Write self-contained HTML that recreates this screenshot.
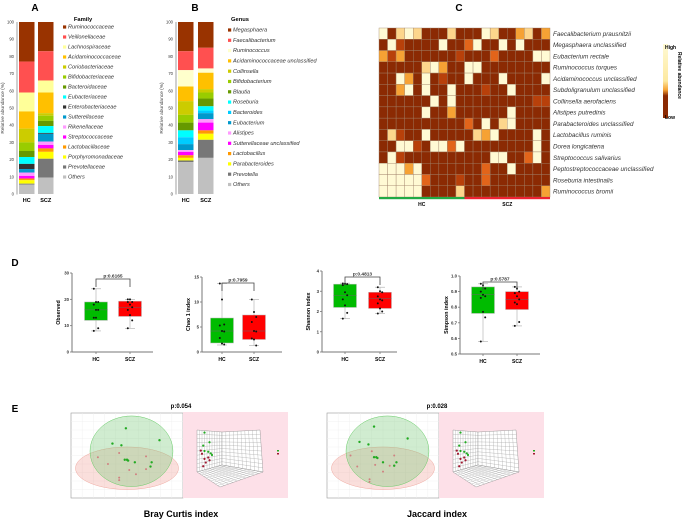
<!DOCTYPE html>
<html><head><meta charset="utf-8">
<style>
html,body{margin:0;padding:0;background:#fff;}
svg{display:block;font-family:"Liberation Sans",Arial,sans-serif;}
</style></head>
<body>
<svg id="fig" width="685" height="520" viewBox="0 0 685 520">
<text x="35" y="11" font-size="10" font-weight="bold" text-anchor="middle">A</text>
<text x="195" y="11" font-size="10" font-weight="bold" text-anchor="middle">B</text>
<text x="459" y="11" font-size="10" font-weight="bold" text-anchor="middle">C</text>
<text x="15" y="266" font-size="10" font-weight="bold" text-anchor="middle">D</text>
<text x="15" y="412" font-size="10" font-weight="bold" text-anchor="middle">E</text>
<g id="gA"></g>
<g id="gB"></g>
<g id="gC"></g>
<g id="gD"></g>
<g id="gE"></g>
</svg>
<script>
// ---------- Data ----------
const groups = ["HC","SCZ"];
const familyNames = ["Ruminococcaceae","Veillonellaceae","Lachnospiraceae","Acidaminococcaceae","Coriobacteriaceae","Bifidobacteriaceae","Bacteroidaceae","Eubacteriaceae","Enterobacteriaceae","Sutterellaceae","Rikenellaceae","Streptococcaceae","Lactobacillaceae","Porphyromonadaceae","Prevotellaceae","Others"];
const familyHC  = [23,18,11,10,8,5,3.5,4,3,2,2,1.5,1,2,0.5,5.5];
const familySCZ = [17,17,7,12,1.5,3,3,4,0.5,4.5,2,2,2,4,11,9.5];
const familyColors = ["#993300","#ff5050","#ffff99","#ffc000","#cccc00","#99cc00","#669900","#00ffff","#333333","#0099cc","#ff99ff","#ff00ff","#ff9900","#ffff00","#777777","#c0c0c0"];
const genusNames = ["Megasphaera","Faecalibacterium","Ruminococcus","Acidaminococcaceae unclassified","Collinsella","Bifidobacterium","Blautia","Roseburia","Bacteroides","Eubacterium","Alistipes","Sutterellaceae unclassified","Lactobacillus","Parabacteroides","Prevotella","Others"];
const genusHC  = [17,11,9.5,8.5,8,4.5,4.5,4,4,3.5,1,2,1.5,1.5,1,18.5];
const genusSCZ = [15,12,2.5,9.5,2,3.5,4.5,2.5,1.5,3.5,2,4.5,2,3.5,10.5,21];
const genusColors = ["#993300","#ff5050","#ffffcc","#ffc000","#cccc00","#99cc00","#669900","#00ffff","#00ccff","#0099cc","#ff99ff","#ff00ff","#ff9900","#ffff00","#777777","#c0c0c0"];
const abundanceTicks = [0,10,20,30,40,50,60,70,80,90,100];

const speciesNames = ["Faecalibacterium prausnitzii","Megasphaera unclassified","Eubacterium rectale","Ruminococcus torques","Acidaminococcus unclassified","Subdoligranulum unclassified","Collinsella aerofaciens","Alistipes putredinis","Parabacteroides unclassified","Lactobacillus ruminis","Dorea longicatena","Streptococcus salivarius","Peptostreptococcaceae unclassified","Roseburia intestinalis","Ruminococcus bromii"];
const heatLevels = [
[5,0,4,5,4,0,0,0,4,0,0,0,5,4,0,0,3,4,0,3],
[0,5,1,0,0,0,0,5,0,0,2,5,0,0,5,0,5,0,0,0],
[3,1,3,0,0,0,0,0,0,1,0,0,0,2,0,0,0,0,5,5],
[0,0,0,0,0,4,5,3,0,0,5,5,0,0,0,0,0,0,0,0],
[0,0,5,3,0,5,0,1,0,0,5,0,0,0,5,0,0,0,0,5],
[0,0,3,5,0,5,0,0,5,0,0,0,1,0,0,5,0,0,0,0],
[0,0,0,0,0,0,5,0,5,0,0,0,0,0,0,0,0,0,1,1],
[0,0,0,0,0,5,0,0,3,0,0,0,0,0,0,5,0,0,0,0],
[0,0,0,0,0,0,0,0,0,0,2,0,5,0,4,5,0,0,0,0],
[0,4,1,0,0,5,0,0,0,0,0,4,3,5,0,0,0,0,5,0],
[0,0,5,5,1,0,5,5,2,5,0,0,0,0,0,0,0,0,5,0],
[0,5,1,0,0,0,0,0,0,0,0,0,0,5,5,0,0,2,5,0],
[5,5,5,3,5,0,0,0,0,0,0,0,2,0,0,5,0,0,0,0],
[5,5,5,5,5,2,0,0,0,1,0,0,2,0,0,0,0,0,0,0],
[5,5,5,5,5,0,0,0,0,4,0,0,0,0,0,0,0,0,0,3]];
const heatGroupSizes = [10,10];

// box stats: [min, q1, median, q3, max]
const obsHC = [24,19,19,18,16,16,13,13,9,8];
const obsSCZ = [20,20,19,19,18,17,16,14,12,9];
const obsBoxHC = [8,12,16,19,24];
const obsBoxSCZ = [9,13.5,17,19.3,20];
const obsTicks = [0,10,20,30];
const chaoHC = [13.7,10.5,5.5,5.3,4.2,4.1,2.8,1.7,1.5];
const chaoSCZ = [10.5,8,7,6,4.2,4.1,2.7,2.5,1.3];
const chaoBoxHC = [1.4,1.8,4.2,6.8,13.7];
const chaoBoxSCZ = [1.3,2.5,4.2,7.4,10.5];
const chaoTicks = [0,5,10,15];
const shanHC = [3.38,3.37,3.35,3.3,2.95,2.8,2.6,2.3,1.93,1.65];
const shanSCZ = [3.2,3.0,2.95,2.75,2.6,2.55,2.4,2.15,2.0,1.9];
const shanBoxHC = [1.65,2.2,2.8,3.35,3.4];
const shanBoxSCZ = [1.9,2.15,2.65,2.95,3.2];
const shanTicks = [0,1,2,3,4];
const simpHC = [0.95,0.94,0.92,0.9,0.88,0.87,0.86,0.77,0.735,0.58];
const simpSCZ = [0.93,0.92,0.9,0.89,0.87,0.85,0.83,0.82,0.705,0.68];
const simpBoxHC = [0.58,0.76,0.88,0.93,0.95];
const simpBoxSCZ = [0.68,0.785,0.85,0.9,0.93];
const simpTicks = [0.5,0.6,0.7,0.8,0.9,1.0];
const pValuesD = ["p:0.6165","p:0.7959","p:0.4813","p:0.5787"];

const bcGreenX = [49,79,37,45,48,50,51,57,72,71];
const bcGreenY = [82,68,64,62,45,45,44,42,42,37];
const bcRedX = [24,43,33,67,52,67,58,43,43];
const bcRedY = [48,53,40,49,33,34,28,24,21];
const jcGreenX = [42,72,29,37,42,44,45,50,62,60];
const jcGreenY = [84,70,66,63,48,48,47,42,42,38];
const jcRedX = [21,40,27,60,43,56,50,38,38];
const jcRedY = [50,55,37,50,39,38,31,22,19];
const pValuesE = ["p:0.054","p:0.028"];
const d3GreenU = [0.3,0.5,0.25,0.3,0.45,0.55,0.6];
const d3GreenV = [0.95,0.7,0.62,0.48,0.45,0.4,0.35];
const d3RedU = [0.15,0.2,0.3,0.45,0.35,0.25,0.5];
const d3RedV = [0.5,0.42,0.28,0.3,0.18,0.1,0.22];

// ---------- Helpers ----------
const NS = "http://www.w3.org/2000/svg";
function mk(tag, parent, attrs){ const e=document.createElementNS(NS,tag); for(const k in attrs) e.setAttribute(k,attrs[k]); parent.appendChild(e); return e; }
function txt(parent, x, y, s, size, extra){ const t=mk("text",parent,Object.assign({x:x,y:y,"font-size":size},extra||{})); t.textContent=s; return t; }
const lin=(d0,d1,r0,r1)=>v=>r0+(v-d0)/(d1-d0)*(r1-r0);

// ---------- Stacked bars ----------
function stacked(g, ax, bx, legX, legY0, legStep, title, titleX, names, colors, sets){
  const y = lin(0,100,194,22);
  mk("line",g,{x1:ax,y1:22,x2:ax,y2:194.5,stroke:"#888","stroke-width":0.8});
  abundanceTicks.forEach(t=>{
    const tl=txt(g,ax-3,y(t)+1.5,String(t),4.2,{"text-anchor":"end",fill:"#333"});
    
    
  });
  const yl=txt(g,0,0,"Relative abundance (%)",4.8,{transform:`translate(${ax-13},108) rotate(-90)`,"text-anchor":"middle",fill:"#444"});
  
  
  sets.forEach((vals,gi)=>{
    let cum=100;
    vals.forEach((v,i)=>{
      const r=mk("rect",g,{x:bx[gi],y:y(cum),width:15.5,height:y(cum-v)-y(cum),fill:colors[i]});
      
      
      cum-=v;
    });
    const gl=txt(g,bx[gi]+7.75,202,groups[gi],5.5,{"text-anchor":"middle","font-weight":"bold"});
    
    
  });
  const tt=txt(g,titleX,21,title,5.8,{"text-anchor":"middle","font-weight":"bold"});
  
  
  names.forEach((n,i)=>{
    const yy=legY0+i*legStep;
    const sq=mk("rect",g,{x:legX,y:yy-2.6,width:3.2,height:3.2,fill:colors[i]});
    
    
    const t=txt(g,legX+5,yy+0.6,n,5.6,{"font-style":"italic",fill:"#333"});
    
    
  });
}
stacked(document.getElementById("gA"),17,[19,38],63,28,10,"Family",83,familyNames,familyColors,[familyHC,familySCZ]);
stacked(document.getElementById("gB"),176,[178,198],228,31,10.3,"Genus",240,genusNames,genusColors,[genusHC,genusSCZ]);

// ---------- Heatmap ----------
(function(){
  const g=document.getElementById("gC");
  const palette=["#8b2a03","#b8400a","#e2641a","#f6a234","#fdd68c","#fffad4"];
  const x0=379,x1=550,y0=28,y1=197;
  const nc=heatLevels[0].length, nr=heatLevels.length;
  const cw=(x1-x0)/nc, ch=(y1-y0)/nr;
  heatLevels.forEach((row,ri)=>{
    row.forEach((lv,ci)=>{
      const r=mk("rect",g,{x:x0+ci*cw,y:y0+ri*ch,width:cw,height:ch,fill:palette[lv],stroke:"#a0826a","stroke-width":0.4});
      
      
    });
    const t=txt(g,553,y0+ri*ch+ch/2+2.2,speciesNames[ri],6.3,{"font-style":"italic",fill:"#333"});
    
    
  });
  const gcols=["#22aa44","#ee2233"];
  let c=0;
  heatGroupSizes.forEach((n,gi)=>{
    const b=mk("rect",g,{x:x0+c*cw,y:y1,width:n*cw,height:2.2,fill:gcols[gi]});
    
    
    const t=txt(g,x0+(c+n/2)*cw,206,groups[gi],5,{"text-anchor":"middle","font-weight":"bold"});
    
    
    c+=n;
  });
  const defs=mk("defs",g,{});
  const lg=mk("linearGradient",defs,{id:"cbar",x1:0,y1:0,x2:0,y2:1});
  [["0","#fffad4"],["0.5","#fde9a0"],["0.62","#f6a234"],["0.7","#8b2a03"],["1","#8b2a03"]].forEach(s=>mk("stop",lg,{offset:s[0],"stop-color":s[1]}));
  const cb=mk("rect",g,{x:663,y:44,width:5,height:74,fill:"url(#cbar)"});
  
  
  const h=txt(g,665,49,"High",5,{"font-weight":"bold"});  
  const l=txt(g,665,119,"Low",5,{"font-weight":"bold"});  
  const rl=txt(g,0,0,"Relative abundance",5,{transform:"translate(678,52) rotate(90)","font-weight":"bold"});
  
  
})();

// ---------- Box plots ----------
function boxplot(ax, xEnd, yTop, yBot, ticks, label, dHC, dSCZ, sHC, sSCZ, pv, cHC, cSCZ, tickFmt){
  const g=mk("g",document.getElementById("gD"),{});
  
  
  const y=lin(ticks[0],ticks[ticks.length-1],yBot,yTop);
  mk("line",g,{x1:ax,y1:yTop,x2:ax,y2:yBot,stroke:"#777","stroke-width":1});
  mk("line",g,{x1:ax,y1:yBot,x2:xEnd,y2:yBot,stroke:"#777","stroke-width":1});
  ticks.forEach(t=>{
    mk("line",g,{x1:ax-2,y1:y(t),x2:ax,y2:y(t),stroke:"#777","stroke-width":0.8});
    const tl=txt(g,ax-3,y(t)+1.5,tickFmt(t),4.3,{"text-anchor":"end","font-weight":"bold",fill:"#333"});
    
    
  });
  const yl=txt(g,0,0,label,5.3,{transform:`translate(${ax-12},${(yTop+yBot)/2}) rotate(-90)`,"text-anchor":"middle","font-weight":"bold"});
  
  
  [[dHC,sHC,cHC,"#00bb00"],[dSCZ,sSCZ,cSCZ,"#ff0000"]].forEach((d,gi)=>{
    const [vals,s,cx,col]=d;
    const [mn,q1,md,q3,mx]=s;
    mk("line",g,{x1:cx,y1:y(mx),x2:cx,y2:y(mn),stroke:"#aaa","stroke-width":0.6});
    mk("line",g,{x1:cx-5,y1:y(mx),x2:cx+5,y2:y(mx),stroke:"#aaa","stroke-width":0.6});
    mk("line",g,{x1:cx-5,y1:y(mn),x2:cx+5,y2:y(mn),stroke:"#aaa","stroke-width":0.6});
    const b=mk("rect",g,{x:cx-11.5,y:y(q3),width:23,height:y(q1)-y(q3),fill:col,stroke:"#bbb","stroke-width":0.5});
    
    
    mk("line",g,{x1:cx-11.5,y1:y(md),x2:cx+11.5,y2:y(md),stroke:"#666","stroke-width":0.5});
    vals.forEach((v,i)=>{
      const p=mk("circle",g,{cx:cx+((i%3)-1)*2.2,cy:y(v),r:1,fill:"#111"});
      
      
    });
    mk("line",g,{x1:cx,y1:yBot,x2:cx,y2:yBot+2,stroke:"#777","stroke-width":0.8});
    const gl=txt(g,cx,yBot+9,groups[gi],5,{"text-anchor":"middle","font-weight":"bold"});
    
    
  });
  const by=yTop+6;
  mk("polyline",g,{points:`${cHC},${by+8} ${cHC},${by} ${cSCZ},${by} ${cSCZ},${by+8}`,fill:"none",stroke:"#444","stroke-width":0.8});
  const pt=txt(g,(cHC+cSCZ)/2,by-1.5,pv,4.8,{"text-anchor":"middle","font-weight":"bold",fill:"#333"});
  
  
}
const f0=t=>String(t), f1=t=>t.toFixed(1);
boxplot(72,153,273,352,obsTicks,"Observed",obsHC,obsSCZ,obsBoxHC,obsBoxSCZ,pValuesD[0],96,130,f0);
boxplot(202,282,277,352,chaoTicks,"Chao 1 index",chaoHC,chaoSCZ,chaoBoxHC,chaoBoxSCZ,pValuesD[1],222,254,f0);
boxplot(322,397,271,352,shanTicks,"Shannon index",shanHC,shanSCZ,shanBoxHC,shanBoxSCZ,pValuesD[2],345,380,f0);
boxplot(460,540,276,354,simpTicks,"Simpson index",simpHC,simpSCZ,simpBoxHC,simpBoxSCZ,pValuesD[3],483,517,f1);

// ---------- PCoA panels ----------
function pcoa(x0, pv, title, gx, gy, rx, ry){
  const g=mk("g",document.getElementById("gE"),{});
  
  
  const w=112, top=413, bot=498;
  const X=lin(0,100,x0,x0+w), Y=lin(0,100,bot,top);
  const fr=mk("rect",g,{x:x0,y:top,width:w,height:bot-top,fill:"#fff",stroke:"#999","stroke-width":0.6});
  
  
  for(let i=1;i<10;i++){
    mk("line",g,{x1:X(i*10),y1:top,x2:X(i*10),y2:bot,stroke:"#eee","stroke-width":0.4});
    mk("line",g,{x1:x0,y1:Y(i*10),x2:x0+w,y2:Y(i*10),stroke:"#eee","stroke-width":0.4});
  }
  const ep=mk("ellipse",g,{cx:X(50),cy:Y(35),rx:X(46)-X(0),ry:Y(0)-Y(25),fill:"rgba(240,150,140,0.3)",stroke:"#f0a8a0","stroke-width":0.5});
   
  const eg=mk("ellipse",g,{cx:X(54),cy:Y(55),rx:X(37)-X(0),ry:Y(0)-Y(41.5),fill:"rgba(120,200,120,0.35)",stroke:"#6c6","stroke-width":0.5});
   
  rx.forEach((v,i)=>{const c=mk("circle",g,{cx:X(v),cy:Y(ry[i]),r:1,fill:"#d08080"});  });
  gx.forEach((v,i)=>{const c=mk("circle",g,{cx:X(v),cy:Y(gy[i]),r:1.2,fill:"#22aa22"});  });
  const px0=x0+w, pw=105;
  const pk=mk("rect",g,{x:px0,y:412,width:pw,height:86,fill:"#fde0e8"});
   
  const o=px0-183;
  const L=[[197,430],[222,432],[222,465],[197,472]], R=[[222,432],[260,430],[263,472],[222,465]], F=[[197,472],[222,465],[263,472],[220,487]];
  const bil=(q,u,v)=>{const a=q[0],b=q[1],c=q[2],d=q[3]; const tx=a[0]+(b[0]-a[0])*u, ty=a[1]+(b[1]-a[1])*u, bx=d[0]+(c[0]-d[0])*u, by_=d[1]+(c[1]-d[1])*u; return [o+tx+(bx-tx)*v, ty+(by_-ty)*v];};
  [L,R,F].forEach(q=>{
    const poly=[bil(q,0,0),bil(q,1,0),bil(q,1,1),bil(q,0,1)].map(p=>p.join(",")).join(" ");
    mk("polygon",g,{points:poly,fill:"#fff",stroke:"#888","stroke-width":0.4});
    for(let i=1;i<10;i++){
      const a=bil(q,i/10,0), b=bil(q,i/10,1), c=bil(q,0,i/10), d=bil(q,1,i/10);
      mk("line",g,{x1:a[0],y1:a[1],x2:b[0],y2:b[1],stroke:"#999","stroke-width":0.3});
      mk("line",g,{x1:c[0],y1:c[1],x2:d[0],y2:d[1],stroke:"#999","stroke-width":0.3});
    }
  });
  d3RedU.forEach((u,i)=>{const p=bil(L,u,1-d3RedV[i]); const c=mk("circle",g,{cx:p[0],cy:p[1],r:1.1,fill:"#a01830"});  });
  d3GreenU.forEach((u,i)=>{const p=bil(L,u,1-d3GreenV[i]); const c=mk("circle",g,{cx:p[0],cy:p[1],r:1.1,fill:"#22aa22"});  });
  mk("rect",g,{x:o+277,y:450,width:2,height:1.5,fill:"#22aa22"});
  mk("rect",g,{x:o+277,y:453,width:2,height:1.5,fill:"#a01830"});
  const pt=txt(g,x0+w-2,408,pv,6,{"text-anchor":"middle","font-weight":"bold"});
   
  const tt=txt(g,x0+w-2,517,title,9,{"text-anchor":"middle","font-weight":"bold"});
   
}
pcoa(71,pValuesE[0],"Bray Curtis index",bcGreenX,bcGreenY,bcRedX,bcRedY);
pcoa(327,pValuesE[1],"Jaccard index",jcGreenX,jcGreenY,jcRedX,jcRedY);
</script>
</body></html>
